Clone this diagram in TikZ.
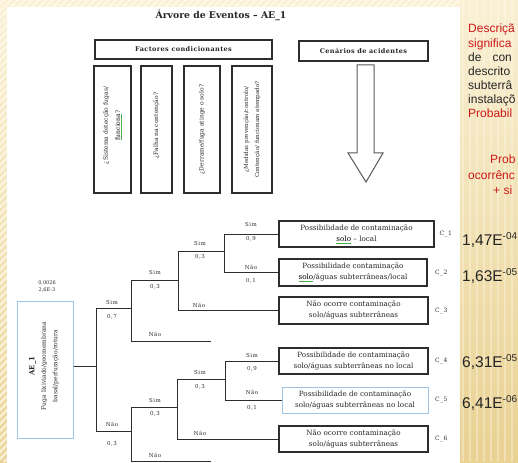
\documentclass[tikz,border=0pt]{standalone}
\usepackage{fontspec}
\setmainfont{DejaVu Serif}
\newfontfamily\sansfam{Liberation Sans}
\usetikzlibrary{calc}

\definecolor{woodlight}{RGB}{249,240,212}
\definecolor{wooddark}{RGB}{233,209,146}
\definecolor{woodstripe}{RGB}{255,251,236}
\definecolor{inkgray}{RGB}{45,45,45}
\definecolor{paleblue}{RGB}{160,196,228}
\definecolor{slidered}{RGB}{204,24,24}
\definecolor{spellgreen}{RGB}{70,175,70}

% type settings for the different text groups
\newcommand\boxfont{\fontsize{7.2}{11}\selectfont}
\newcommand\qfont{\fontsize{6}{12}\selectfont}
\newcommand\headfont{\fontsize{6.5}{8}\selectfont\bfseries\addfontfeature{LetterSpace=6}}
\newcommand\lblfont{\fontsize{5.5}{7}\selectfont\addfontfeature{LetterSpace=8}}
\newcommand\tagfont{\fontsize{6}{7}\selectfont\addfontfeature{LetterSpace=6}}
\newcommand\titlefont{\fontsize{9.3}{12}\selectfont\bfseries}
% word flagged by the spell checker
\newcommand\spellmark[1]{{\color{spellgreen}\underline{\textcolor{black}{#1}}}}

\begin{document}
\begin{tikzpicture}[x=1pt, y=-1pt,
  branch/.style={draw=inkgray, line width=0.9pt},
  obox/.style={draw=inkgray, line width=1.1pt, fill=white, minimum height=26pt,
    inner sep=0pt, align=center, font=\boxfont, text=black!85},
  qbox/.style={draw=inkgray, line width=1.1pt, fill=white, inner sep=0pt},
  qtext/.style={rotate=90, align=center, inner sep=0pt, font=\qfont, text=black!85},
  hbox/.style={draw=inkgray, line width=1.1pt, fill=white, inner sep=0pt,
    font=\headfont, text=black!85},
  lbl/.style={inner sep=0pt, font=\lblfont, text=inkgray},
  tag/.style={inner sep=0pt, anchor=west, font=\tagfont, text=inkgray},
  bignum/.style={inner sep=0pt, anchor=base west,
    font=\sansfam\fontsize{15.5}{16}\selectfont, text=black!85},
  side/.style={inner sep=0pt, anchor=base west,
    font=\sansfam\fontsize{12}{14}\selectfont},
]
\useasboundingbox (0,0) rectangle (518,462);
\clip (0,0) rectangle (518,462);

% slide background
\shade[top color=woodlight, bottom color=wooddark] (0,0) rectangle (518,462);
\begin{scope}
  \clip (0,0) rectangle (7,462) (0,0) rectangle (460,7);
  \foreach \i in {0,7,...,990}
    \draw[woodstripe, line width=2.5pt, opacity=0.7] (\i,-10) -- (\i-480,470);
\end{scope}
\foreach \x in {463,470,...,518}
  \draw[woodstripe, line width=2pt, opacity=0.35] (\x,0) -- (\x,462);
\fill[white] (7,7) rectangle (460,470);

% title
\node[inner sep=0pt, font=\titlefont, text=black!85] (title) at (221,15) {Árvore de Eventos – AE\_1};

% header boxes
\node[hbox, minimum width=177pt, minimum height=19pt] (fact) at (183.5,49.5) {Factores condicionantes};
\node[hbox, minimum width=129pt, minimum height=20pt] (cen) at (363.5,51) {Cenários de acidentes};

% question columns
\node[qbox, minimum width=37pt, minimum height=127pt] (Q1) at (112.5,129.5) {};
\node[qtext] (Q1t) at ([yshift=4pt]Q1.center) {¿Sistema detecção fugas/\\\spellmark{funciona}?};
\node[qbox, minimum width=31pt, minimum height=127pt] (Q2) at (156.5,129.5) {};
\node[qtext] (Q2t) at ([yshift=4pt]Q2.center) {¿Falha na contenção?};
\node[qbox, minimum width=36pt, minimum height=127pt] (Q3) at (202,129.5) {};
\node[qtext] (Q3t) at (Q3) {¿Derrame/fuga atinge o solo?};
\node[qbox, minimum width=40pt, minimum height=127pt] (Q4) at (252,129.5) {};
\node[qtext, font=\fontsize{5.6}{11}\selectfont] (Q4t) at (Q4) {¿Medidas prevenção/controlo/\\Contenção/ funcionam atempado?};

% hollow arrow below the scenario header
\draw[draw=black!65, line width=1pt, fill=white]
  (357,65) -- (374,65) -- (374,153) -- (383,153) -- (366,182) -- (348,153) -- (357,153) -- cycle;

% initiating event
\node[draw=paleblue, line width=1pt, fill=white, minimum width=56pt, minimum height=137pt, inner sep=0pt] (AE) at (45,369.5) {};
\node[qtext, font=\fontsize{6}{11.5}\selectfont] (AEt) at (44,366)
  {{\fontsize{7}{11.5}\selectfont\bfseries AE\_1}\\Fuga lixiviado/geomembrana\\basal/perfuração/rotura};
\node[lbl, align=center, font=\fontsize{5}{7}\selectfont] (pAE) at (47,286) {0,0026\\2,6E-3};

% consequence boxes
\node[obox, minimum width=155pt] (C1) at (356.5,234) {Possibilidade de contaminação\\\spellmark{solo} – local};
\node[obox, minimum width=148pt, minimum height=27pt] (C2) at (353,272.5) {Possibilidade contaminação\\\spellmark{solo}/águas subterrâneas/local};
\node[obox, minimum width=149pt, minimum height=27pt] (C3) at (353.5,310.5) {Não ocorre contaminação\\solo/águas subterrâneas};
\node[obox, minimum width=149pt] (C4) at (353.5,361) {Possibilidade de contaminação\\solo/águas subterrâneas no local};
\node[obox, minimum width=146pt, draw=paleblue, line width=1pt] (C5) at (355,400) {Possibilidade de contaminação\\solo/águas subterrâneas no local};
\node[obox, minimum width=149pt] (C6) at (353.5,439) {Não ocorre contaminação\\solo/águas subterrâneas};

% scenario tags
\node[tag] (k1) at (439.5,234) {C\_1};
\node[tag] (k2) at (435,272.5) {C\_2};
\node[tag] (k3) at (435,310.5) {C\_3};
\node[tag] (k4) at (435,361) {C\_4};
\node[tag] (k5) at (435,400) {C\_5};
\node[tag] (k6) at (435,439) {C\_6};

% branch points
\coordinate (r0) at (96,366);
\coordinate (s1) at (96,308);   \coordinate (n1) at (96,431);
\coordinate (s2) at (131,280);  \coordinate (n2) at (131,341);  \coordinate (n2e) at (211,341);
\coordinate (s3) at (178,251);  \coordinate (n3) at (178,310.5);
\coordinate (s4) at (224,234);  \coordinate (n4) at (224,272.5);
\coordinate (s5) at (131,407);  \coordinate (n5) at (131,461.5); \coordinate (n5e) at (211,461.5);
\coordinate (s6) at (177,379);  \coordinate (n6) at (177,439);
\coordinate (s7) at (225,361);  \coordinate (n7) at (225,400);

% event tree
\draw[branch] (AE.east |- r0) -- (r0);
\draw[branch] (s1) -- (n1);
\draw[branch] (s1) -- (s1 -| s2);
\draw[branch] (s2) -- (n2) -- (n2e);
\draw[branch] (s2) -- (s2 -| s3);
\draw[branch] (s3) -- (n3) -- (C3.west);
\draw[branch] (s3) -- (s3 -| s4);
\draw[branch] (s4) -- (C1.west);
\draw[branch] (s4) -- (n4) -- (C2.west);
\draw[branch] (n1) -- (n1 -| s5);
\draw[branch] (s5) -- (n5) -- (n5e);
\draw[branch] (s5) -- (s5 -| s6);
\draw[branch] (s6) -- (n6) -- (C6.west);
\draw[branch] (s6) -- (s6 -| s7);
\draw[branch] (s7) -- (C4.west);
\draw[branch] (s7) -- (n7) -- (C5.west);

% branch labels
\node[lbl] (la) at (112,302) {Sim};
\node[lbl] (lb) at (112,317) {0,7};
\node[lbl] (lc) at (112,424) {Não};
\node[lbl] (ld) at (112,444) {0,3};
\node[lbl] (le) at (155,272) {Sim};
\node[lbl] (lf) at (155,287) {0,3};
\node[lbl] (lg) at (155,334) {Não};
\node[lbl] (lh) at (200,243) {Sim};
\node[lbl] (li) at (200,257) {0,3};
\node[lbl] (lj) at (199,305) {Não};
\node[lbl] (lk) at (251,224) {Sim};
\node[lbl] (ll) at (251,239) {0,9};
\node[lbl] (lm) at (251,267) {Não};
\node[lbl] (lo) at (251,281) {0,1};
\node[lbl] (lp) at (155,400) {Sim};
\node[lbl] (lq) at (155,414) {0,3};
\node[lbl] (lr) at (155,455) {Não};
\node[lbl] (ls) at (200,372) {Sim};
\node[lbl] (lt) at (200,387) {0,3};
\node[lbl] (lu) at (200,433) {Não};
\node[lbl] (lv) at (252,355) {Sim};
\node[lbl] (lw) at (252,369) {0,9};
\node[lbl] (lx) at (252,392) {Não};
\node[lbl] (ly) at (252,408) {0,1};

% side column text
\node[side, text=slidered] (t1) at (468,33) {Descriçã};
\node[side, text=slidered] (t2) at (468,48) {significa};
\node[side, text=black!85] (t3) at (468,62) {de\hspace{11pt}con};
\node[side, text=black!85] (t4) at (468,76) {descrito};
\node[side, text=black!85] (t5) at (468,90) {subterrâ};
\node[side, text=black!85] (t6) at (468,104) {instalaçõ};
\node[side, text=slidered] (t7) at (468,118) {Probabil};
\node[side, text=slidered] (t8) at (490,164) {Prob};
\node[side, text=slidered] (t9) at (468,179) {ocorrênc};
\node[side, text=slidered] (t10) at (493,194) {+ si};

% scenario probabilities
\node[bignum] (v1) at (462,245) {1,47E\raisebox{6pt}{\fontsize{10}{10}\selectfont -04}};
\node[bignum] (v2) at (462,281) {1,63E\raisebox{6pt}{\fontsize{10}{10}\selectfont -05}};
\node[bignum] (v4) at (462,367) {6,31E\raisebox{6pt}{\fontsize{10}{10}\selectfont -05}};
\node[bignum] (v5) at (462,408) {6,41E\raisebox{6pt}{\fontsize{10}{10}\selectfont -06}};
\end{tikzpicture}
\end{document}
